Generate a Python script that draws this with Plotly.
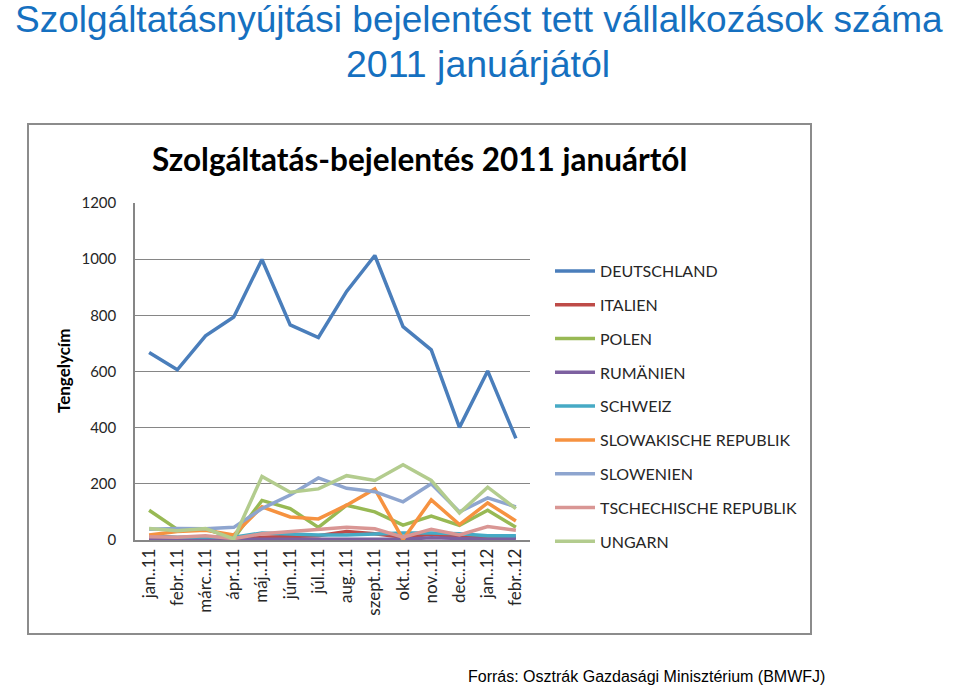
import plotly.graph_objects as go

months = ["jan..11", "febr..11", "márc..11", "ápr..11", "máj..11", "jún..11", "júl..11",
          "aug..11", "szept..11", "okt..11", "nov..11", "dec..11", "jan..12", "febr..12"]

deutschland = [668, 606, 727, 794, 999, 766, 721, 885, 1013, 760, 677, 401, 602, 362]
italien = [5, 5, 8, 5, 10, 12, 15, 30, 22, 10, 20, 10, 8, 10]
polen = [106, 38, 40, 6, 141, 112, 45, 124, 100, 53, 85, 52, 106, 45]
rumaenien = [2, 2, 3, 2, 5, 5, 5, 5, 5, 3, 8, 5, 3, 5]
schweiz = [15, 10, 12, 10, 25, 20, 18, 18, 22, 25, 25, 22, 15, 15]
slowakei = [18, 30, 35, 18, 118, 82, 75, 124, 182, 2, 143, 55, 132, 68]
slowenien = [38, 41, 40, 45, 112, 160, 221, 184, 172, 136, 200, 100, 150, 118]
tschechien = [12, 10, 15, 5, 22, 30, 38, 45, 40, 10, 38, 18, 48, 35]
ungarn = [41, 33, 41, 4, 226, 170, 182, 229, 212, 268, 212, 96, 188, 112]

y_ticks = [0, 200, 400, 600, 800, 1000, 1200]

series = [
    ("DEUTSCHLAND", deutschland, "#4A7EBB"),
    ("ITALIEN", italien, "#BE4B48"),
    ("POLEN", polen, "#98B954"),
    ("RUMÄNIEN", rumaenien, "#7D60A0"),
    ("SCHWEIZ", schweiz, "#46AAC5"),
    ("SLOWAKISCHE REPUBLIK", slowakei, "#F69240"),
    ("SLOWENIEN", slowenien, "#8EA5CF"),
    ("TSCHECHISCHE REPUBLIK", tschechien, "#D99694"),
    ("UNGARN", ungarn, "#B3CC8E"),
]

fig = go.Figure()
for i, (name, vals, col) in enumerate(series):
    fig.add_trace(go.Scatter(
        x=months, y=vals, name=name, mode="lines",
        line=dict(color=col, width=3.5),
        legendgroup=f"g{i}",
    ))

L, R, T, B = 135, 430, 203, 148
W, H = 960, 688
pw = W - L - R
ph = H - T - B

def px(x):
    return (x - L) / pw

def py(y):
    return (H - B - y) / ph

font_chart = "Lato, Carlito, Calibri, sans-serif"
font_page = "Liberation Sans, Arial, sans-serif"

fig.update_layout(
    width=W, height=H,
    margin=dict(l=L, r=R, t=T, b=B, autoexpand=False),
    paper_bgcolor="white", plot_bgcolor="white",
    showlegend=True,
    legend=dict(
        x=px(550), y=py(254), xanchor="left", yanchor="top",
        font=dict(family=font_chart, size=16, color="#262626"),
        tracegroupgap=10, itemwidth=40,
        bgcolor="rgba(0,0,0,0)",
    ),
    xaxis=dict(
        type="category", range=[-0.5, 13.5],
        tickangle=-90, showgrid=False,
        showline=True, linecolor="#868686", linewidth=1.5,
        ticks="", tickfont=dict(family=font_chart, size=17, color="#262626"),
    ),
    yaxis=dict(
        range=[0, 1200], tickvals=y_ticks,
        showgrid=True, gridcolor="#868686", gridwidth=1.2,
        showline=True, linecolor="#868686", linewidth=1.5,
        zeroline=False, ticks="",
        tickfont=dict(family=font_chart, size=15, color="#262626"),
        ticklabelstandoff=14,
    ),
)

# outer chart frame
fig.add_shape(type="rect", xref="paper", yref="paper",
              x0=px(28), x1=px(811), y0=py(634), y1=py(124),
              line=dict(color="#8C8C8C", width=2), layer="below")

# chart title
fig.add_annotation(text="<b>Szolgáltatás-bejelentés 2011 januártól</b>",
                   xref="paper", yref="paper", x=px(419), y=py(159),
                   xanchor="center", yanchor="middle", showarrow=False,
                   font=dict(family=font_chart, size=31.5, color="#000000"))

# y axis title
fig.add_annotation(text="<b>Tengelycím</b>", xref="paper", yref="paper",
                   x=px(63), y=py(371), textangle=-90,
                   xanchor="center", yanchor="middle", showarrow=False,
                   font=dict(family=font_chart, size=17, color="#000000"))

# page title
fig.add_annotation(text="Szolgáltatásnyújtási bejelentést tett vállalkozások száma",
                   xref="paper", yref="paper", x=px(479), y=py(19),
                   xanchor="center", yanchor="middle", showarrow=False,
                   font=dict(family=font_page, size=37, color="#1570C0"))
fig.add_annotation(text="2011 januárjától",
                   xref="paper", yref="paper", x=px(478), y=py(64),
                   xanchor="center", yanchor="middle", showarrow=False,
                   font=dict(family=font_page, size=37.5, color="#1570C0"))

# source
fig.add_annotation(text="Forrás: Osztrák Gazdasági Minisztérium (BMWFJ)",
                   xref="paper", yref="paper", x=px(827), y=py(676),
                   xanchor="right", yanchor="middle", showarrow=False,
                   font=dict(family=font_page, size=16, color="#000000"))

fig.write_html("out.html", config={"displayModeBar": False},
               post_script="document.body.style.margin='0';document.body.style.overflow='hidden';")
